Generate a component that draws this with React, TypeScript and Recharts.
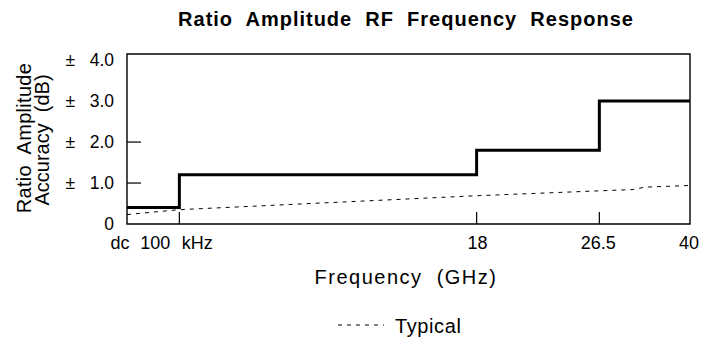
import React from "react"
import { ComposedChart, Line, XAxis, YAxis, ReferenceArea } from "recharts"

// axis positions are schematic (not linear in GHz), read off the picture as % of axis width
const xTickPos = [0, 9.3, 62.1, 83.9, 100]
const xTickLabels = [["dc"], ["100", "kHz"], ["18"], ["26.5"], ["40"]]
const xLabelShift = [[-7], [-24, 18], [1], [-1], [-1]]
const xTickMarks = [false, true, true, true, false]

const yTicks = [0, 1, 2, 3, 4]
const yTickLabels = ["0", "1.0", "2.0", "3.0", "4.0"]
const yTickPlusMinus = [false, true, true, true, true]
const yTickMarks = [false, true, true, false, false]

// specification (solid, stepped)
const specPos = [0, 9.3, 62.1, 83.9, 100]
const specVal = [0.4, 1.2, 1.8, 3.0, 3.0]

// typical (dashed)
const typPos = [0, 9.3, 62.1, 83.9, 89.9, 92, 100]
const typVal = [0.23, 0.35, 0.69, 0.81, 0.84, 0.9, 0.94]

const specData = specPos.map((p, i) => ({ pos: p, spec: specVal[i] }))
const typData = typPos.map((p, i) => ({ pos: p, typ: typVal[i] }))

const FONT = "'Liberation Sans', Arial, Helvetica, sans-serif"

const XTick = (props: any) => {
  const { x, y, payload } = props
  const i = xTickPos.indexOf(payload.value)
  return (
    <g fontSize={18} fontFamily={FONT} fill="#000">
      {xTickMarks[i] && <line x1={x} x2={x} y1={y} y2={y - 12} stroke="#000" strokeWidth={1.2} />}
      {xTickLabels[i].map((t, j) => (
        <text key={j} x={x + xLabelShift[i][j]} y={y + 25} textAnchor="middle">
          {t}
        </text>
      ))}
    </g>
  )
}

const YTick = (props: any) => {
  const { x, y, payload } = props
  const i = yTicks.indexOf(payload.value)
  return (
    <g fontSize={17.5} fontFamily={FONT} fill="#000">
      {yTickMarks[i] && <line x1={x} x2={x + 14} y1={y} y2={y} stroke="#000" strokeWidth={1.2} />}
      {yTickPlusMinus[i] && (
        <text x={x - 52} y={y + 6} textAnchor="end">
          ±
        </text>
      )}
      <text x={x - 13} y={y + 6} textAnchor="end">
        {yTickLabels[i]}
      </text>
    </g>
  )
}

export default function App() {
  return (
    <div style={{ position: "absolute", left: 0, top: 0, width: 703, height: 347, background: "#fff" }}>
      <ComposedChart width={703} height={347} margin={{ top: 54, right: 13, bottom: 93, left: 0 }}>
        <XAxis
          dataKey="pos"
          type="number"
          domain={[0, 100]}
          ticks={xTickPos}
          tick={<XTick />}
          tickLine={false}
          tickSize={0}
          tickMargin={0}
          axisLine={false}
          height={30}
          allowDuplicatedCategory={false}
        />
        <YAxis
          type="number"
          domain={[0, 4.15]}
          ticks={yTicks}
          tick={<YTick />}
          tickLine={false}
          tickSize={0}
          tickMargin={0}
          axisLine={false}
          width={127}
          allowDataOverflow
        />
        <ReferenceArea x1={0} x2={100} y1={0} y2={4.15} fill="none" stroke="#000" strokeWidth={1.4} />
        <Line
          data={typData}
          dataKey="typ"
          type="linear"
          stroke="#000"
          strokeWidth={1}
          strokeDasharray="4 5"
          dot={false}
          isAnimationActive={false}
        />
        <Line
          data={specData}
          dataKey="spec"
          type="stepAfter"
          stroke="#000"
          strokeWidth={3}
          dot={false}
          isAnimationActive={false}
        />
        <text
          x={406}
          y={26}
          textAnchor="middle"
          fontSize={20}
          fontWeight="bold"
          letterSpacing={1}
          fontFamily={FONT}
          style={{ whiteSpace: "pre" }}
        >
          Ratio  Amplitude  RF  Frequency  Response
        </text>
        <text
          x={24}
          y={138}
          textAnchor="middle"
          dominantBaseline="central"
          fontSize={20}
          letterSpacing={0.3}
          fontFamily={FONT}
          transform="rotate(-90 24 138)"
          style={{ whiteSpace: "pre" }}
        >
          Ratio  Amplitude
        </text>
        <text
          x={42}
          y={140}
          textAnchor="middle"
          dominantBaseline="central"
          fontSize={20}
          fontFamily={FONT}
          transform="rotate(-90 42 140)"
          style={{ whiteSpace: "pre" }}
        >
          Accuracy  (dB)
        </text>
        <text
          x={406}
          y={284}
          textAnchor="middle"
          fontSize={20}
          letterSpacing={1.5}
          fontFamily={FONT}
          style={{ whiteSpace: "pre" }}
        >
          Frequency  (GHz)
        </text>
        <line x1={338} x2={384} y1={325} y2={325} stroke="#000" strokeWidth={1} strokeDasharray="4 5" />
        <text x={395} y={333} fontSize={20} letterSpacing={0.6} fontFamily={FONT}>
          Typical
        </text>
      </ComposedChart>
    </div>
  )
}
